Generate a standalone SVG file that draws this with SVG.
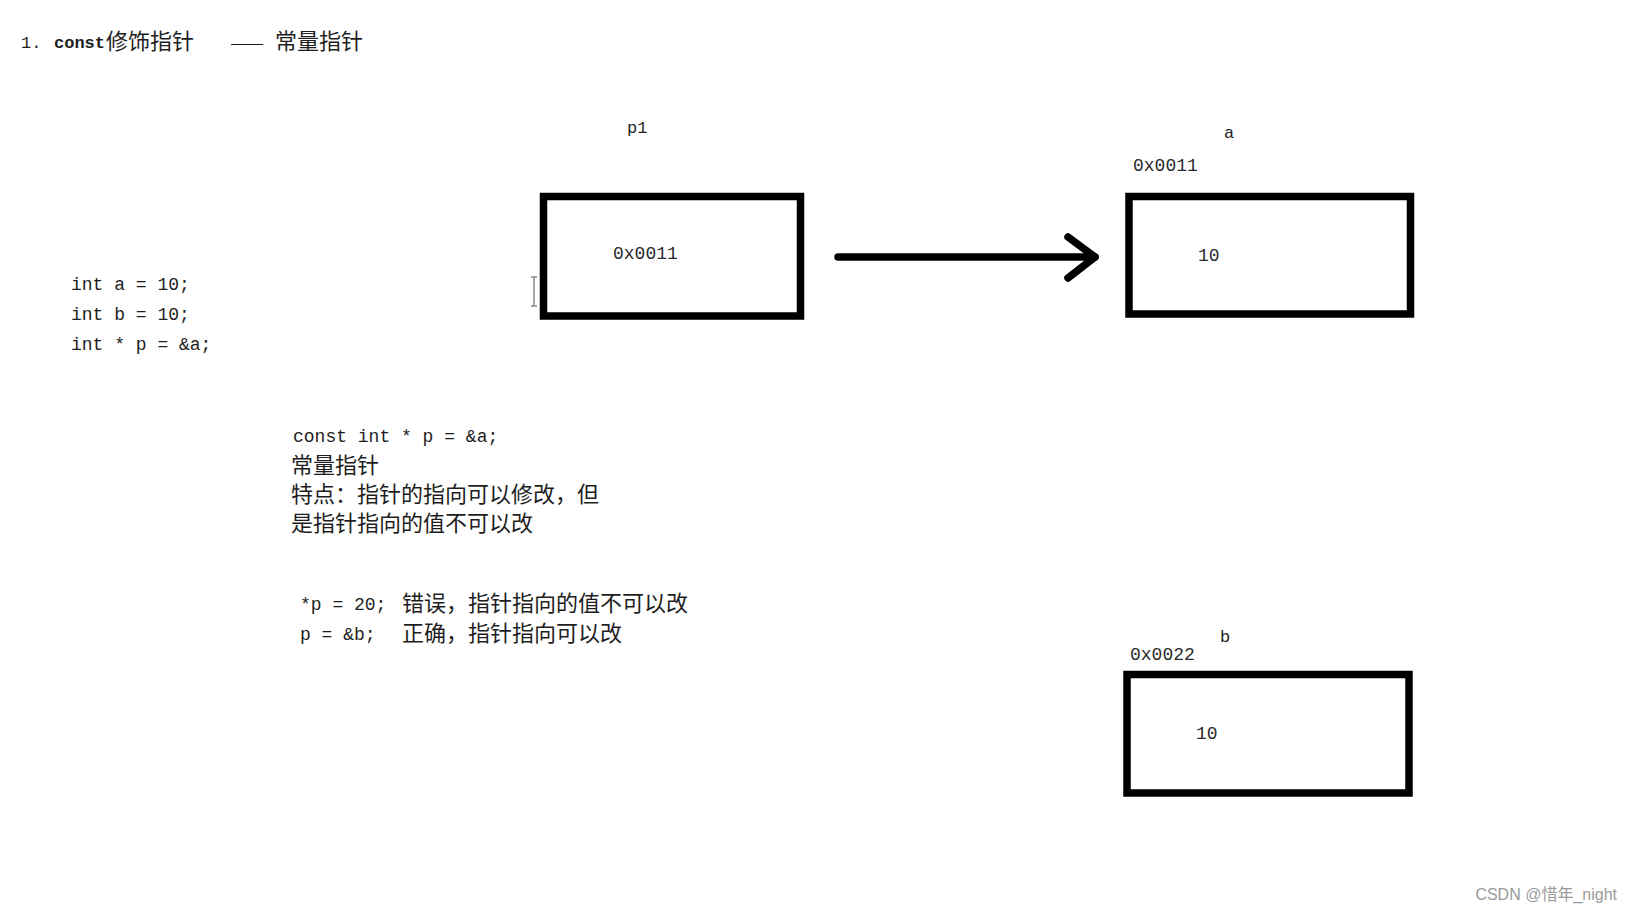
<svg xmlns="http://www.w3.org/2000/svg" width="1633" height="912" viewBox="0 0 1633 912">
<style>
.mono{font-family:"Liberation Mono","DejaVu Sans Mono",monospace;fill:#1e1e1e;}
.cjk{font-family:"Noto Sans CJK SC","Noto Sans",sans-serif;fill:#1e1e1e;}
.box{fill:#fff;stroke:#000;stroke-width:7.5;}
.val{font-family:"Liberation Mono","DejaVu Sans Mono",monospace;font-size:18px;fill:#2a2a2a;}
</style>
<rect width="1633" height="912" fill="#fff"/>
<g id="title">
<text class="mono" x="21" y="48" font-size="17">1.</text>
<text class="mono" x="54" y="48" font-size="17" font-weight="bold">const</text>
<text class="cjk" x="106" y="49" font-size="22">修饰指针</text>
<text class="cjk" x="230" y="49" font-size="17" textLength="34" lengthAdjust="spacingAndGlyphs">——</text>
<text class="cjk" x="275" y="49" font-size="22">常量指针</text>
</g>
<g id="code">
<text class="mono" x="71" y="290" font-size="18">int a = 10;</text>
<text class="mono" x="71" y="320" font-size="18">int b = 10;</text>
<text class="mono" x="71" y="350" font-size="18">int * p = &amp;a;</text>
</g>
<g id="notes">
<text class="mono" x="293" y="442" font-size="18">const int * p = &amp;a;</text>
<text class="cjk" x="291" y="473" font-size="22">常量指针</text>
<text class="cjk" x="291" y="502" font-size="22">特点：指针的指向可以修改，但</text>
<text class="cjk" x="291" y="531" font-size="22">是指针指向的值不可以改</text>
<text class="mono" x="300" y="610" font-size="18">*p = 20;</text>
<text class="cjk" x="402" y="611" font-size="22">错误，指针指向的值不可以改</text>
<text class="mono" x="300" y="640" font-size="18">p = &amp;b;</text>
<text class="cjk" x="402" y="641" font-size="22">正确，指针指向可以改</text>
</g>
<g id="node-p1">
<text class="mono" x="627" y="133" font-size="17">p1</text>
<rect class="box" x="543.5" y="196.5" width="257" height="119.5"/>
<text class="val" x="613" y="259">0x0011</text>
</g>
<g id="node-a">
<text class="mono" x="1224" y="138" font-size="17">a</text>
<text class="val" x="1133" y="171">0x0011</text>
<rect class="box" x="1129" y="196.5" width="281.5" height="117.5"/>
<text class="val" x="1198" y="261">10</text>
</g>
<g id="node-b">
<text class="mono" x="1220" y="642" font-size="17">b</text>
<text class="val" x="1130" y="660">0x0022</text>
<rect class="box" x="1127" y="674.5" width="282" height="118.5"/>
<text class="val" x="1196" y="739">10</text>
</g>
<g id="connectors" fill="none" stroke="#000" stroke-width="7.5" stroke-linecap="round" stroke-linejoin="round">
<line x1="838" y1="257" x2="1095" y2="257"/>
<polyline points="1068,237 1095,257 1068,278"/>
</g>
<g id="cursor" stroke="#888" stroke-width="1.5" fill="none">
<path d="M531,277 h6 M534,277 v29 M531,306 h6"/>
</g>
<text x="1617" y="900" font-family="Liberation Sans, Noto Sans CJK SC, sans-serif" font-size="16" fill="#9a9a9a" text-anchor="end">CSDN @惜年_night</text>
</svg>
